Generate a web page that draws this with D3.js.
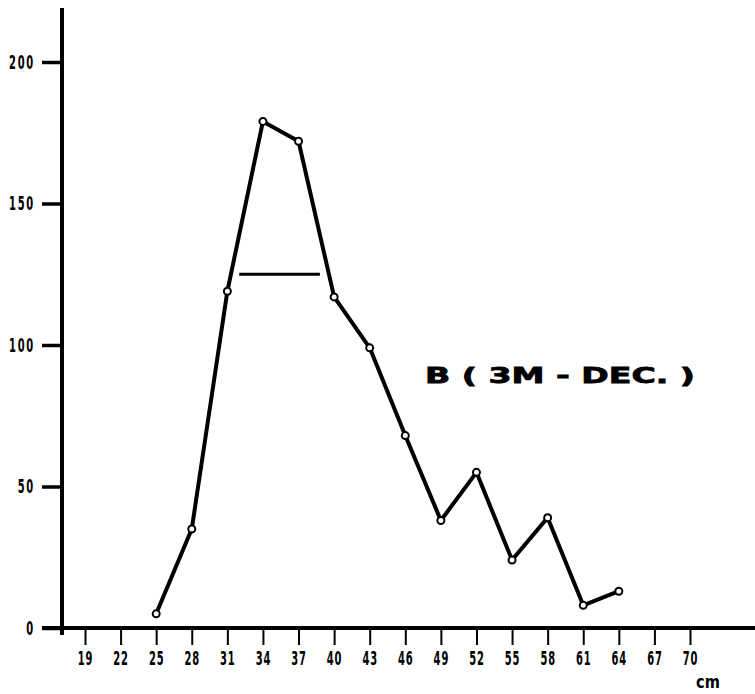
<!DOCTYPE html>
<html>
<head>
<meta charset="utf-8">
<script src="https://cdn.jsdelivr.net/npm/d3@7"></script>
<style>
  body { margin: 0; background: #fff; }
  svg { display: block; }
  .num { font-family: "Liberation Sans Narrow", "DejaVu Sans Condensed", sans-serif; font-weight: bold; font-size: 19px; fill: #000; }
</style>
</head>
<body>
<svg width="755" height="694"></svg>
<script>
// lengths (cm) and counts
var lengths = [25, 28, 31, 34, 37, 40, 43, 46, 49, 52, 55, 58, 61, 64];
var counts = [5, 35, 119, 179, 172, 117, 99, 68, 38, 55, 24, 39, 8, 13];
var xTicks = [19, 22, 25, 28, 31, 34, 37, 40, 43, 46, 49, 52, 55, 58, 61, 64, 67, 70];
var yTicks = [0, 50, 100, 150, 200];
var meanBar = [32, 38.8];   // horizontal bar drawn at count 125
var meanLevel = 125;
var label = "B ( 3M - DEC. )";

var svg = d3.select("svg");
var sx = 0.58; // squeeze for the narrow digits

var x = d3.scaleLinear().domain([19, 70]).range([85, 690]);
var y = d3.scaleLinear().domain([0, 200]).range([628, 62]);

// axis lines
svg.append("line")
  .attr("x1", 62).attr("x2", 62).attr("y1", 8).attr("y2", 635)
  .attr("stroke", "#000").attr("stroke-width", 4);
svg.append("line")
  .attr("x1", 42).attr("x2", 755).attr("y1", y(0)).attr("y2", y(0))
  .attr("stroke", "#000").attr("stroke-width", 4);

// x axis
var gx = svg.append("g")
  .attr("transform", "translate(0," + y(0) + ")")
  .call(d3.axisBottom(x).tickValues(xTicks).tickSize(17).tickFormat(d3.format("d")));
gx.select(".domain").remove();
gx.selectAll(".tick line").attr("stroke", "#000").attr("stroke-width", 2);
gx.selectAll(".tick text")
  .attr("class", "num")
  .attr("y", 24)
  .attr("letter-spacing", 1.5)
  .attr("transform", "scale(" + sx + ",1)");

// y axis
var gy = svg.append("g")
  .attr("transform", "translate(62,0)")
  .call(d3.axisLeft(y).tickValues(yTicks).tickSize(20).tickPadding(6));
gy.select(".domain").remove();
gy.selectAll(".tick line").attr("stroke", "#000").attr("stroke-width", 3.5);
gy.selectAll(".tick text")
  .attr("class", "num")
  .attr("x", -27 / sx)
  .attr("transform", "scale(" + sx + ",1)")
  .attr("letter-spacing", 3);

// unit
svg.append("text")
  .attr("class", "num")
  .attr("x", 708 / 0.9).attr("y", 688)
  .attr("text-anchor", "middle")
  .attr("transform", "scale(0.9,1)")
  .style("font-size", "18px")
  .text("cm");

// series
var line = d3.line()
  .x(function (d, i) { return x(lengths[i]); })
  .y(function (d) { return y(d); });

svg.append("path")
  .datum(counts)
  .attr("d", line)
  .attr("fill", "none")
  .attr("stroke", "#000")
  .attr("stroke-width", 4)
  .attr("stroke-linejoin", "round");

svg.selectAll(".pt")
  .data(counts)
  .enter().append("circle")
  .attr("class", "pt")
  .attr("cx", function (d, i) { return x(lengths[i]); })
  .attr("cy", function (d) { return y(d); })
  .attr("r", 3.5)
  .attr("fill", "#fff")
  .attr("stroke", "#000")
  .attr("stroke-width", 2);

// horizontal bar
svg.append("line")
  .attr("x1", x(meanBar[0])).attr("x2", x(meanBar[1]))
  .attr("y1", y(meanLevel)).attr("y2", y(meanLevel))
  .attr("stroke", "#000").attr("stroke-width", 3);

// label
svg.append("text")
  .attr("x", 425).attr("y", 383)
  .attr("textLength", 270)
  .attr("lengthAdjust", "spacingAndGlyphs")
  .style("font-family", "DejaVu Sans, sans-serif")
  .style("font-weight", "bold")
  .style("font-size", "22px")
  .style("stroke", "#000")
  .style("stroke-width", 0.8)
  .text(label);
</script>
</body>
</html>
